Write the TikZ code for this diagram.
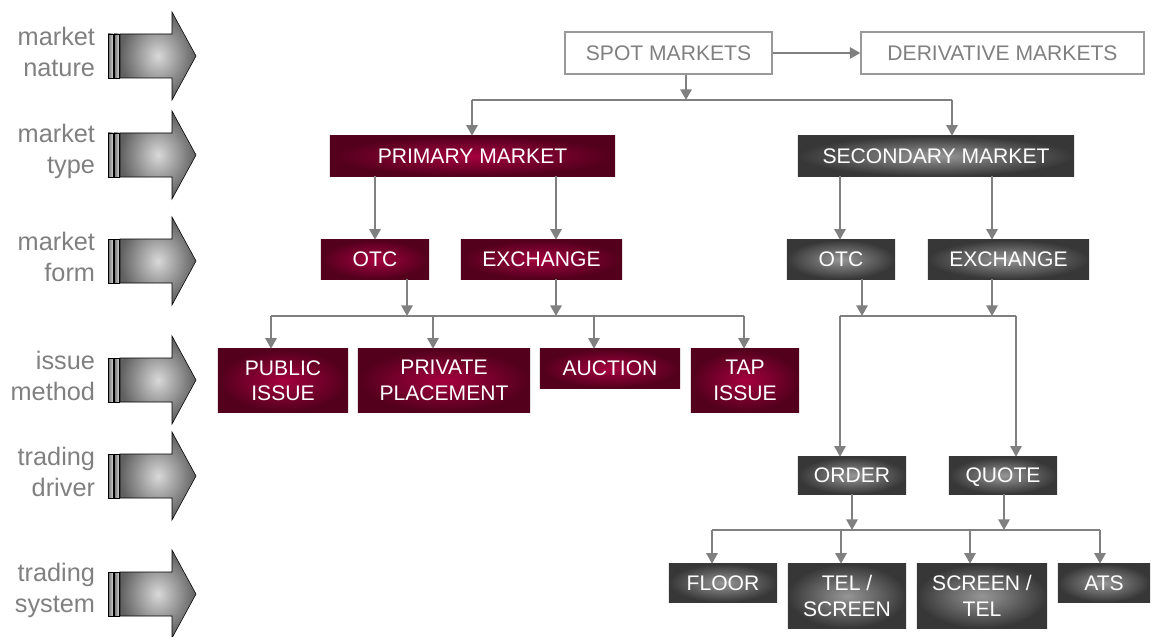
\documentclass[tikz,border=0pt]{standalone}
\usepackage{fontspec}
\setmainfont{Liberation Sans}
\usepackage{tikz}
\usetikzlibrary{arrows.meta,positioning,calc}
\definecolor{mktgray}{RGB}{128,128,128}
\definecolor{redcore}{RGB}{165,0,62}
\definecolor{rededge}{RGB}{82,0,28}
\definecolor{graycore}{RGB}{150,150,150}
\definecolor{grayedge}{RGB}{55,55,55}

\begin{document}
\begin{tikzpicture}[x=0.025cm, y=-0.025cm,
  font=\fontsize{15}{18}\selectfont,
  conn/.style={draw=mktgray, line width=1.4pt, -{Triangle[width=8pt,length=7.5pt]}},
  bus/.style={draw=mktgray, line width=1.4pt},
  nbox/.style={draw=mktgray!80, fill=white, text=mktgray, inner sep=0pt, line width=0.8pt},
  redbox/.style={inner color=redcore, outer color=rededge, text=white, inner sep=0pt, align=center},
  graybox/.style={inner color=graycore, outer color=grayedge, text=white, inner sep=0pt, align=center},
  rowlbl/.style={text=mktgray, anchor=east, align=right, font=\fontsize{18}{22}\selectfont},
  bigarrow/.style={inner color=gray!30, outer color=gray!75!black, draw=black, line width=0.4pt},
  arrowbar/.style={left color=gray!85!black, right color=gray!35, draw=black, line width=0.4pt}]

\useasboundingbox (0,0) rectangle (1152,637);

% Row labels with big arrows
\foreach \y/\ta/\tb in {56/market/nature, 155/market/type, 261/market/form,
                        380/issue/method, 476/trading/driver, 594/trading/system}{
  \shade[arrowbar] (108,\y-22) rectangle (113,\y+22);
  \shade[arrowbar] (114,\y-22) rectangle (119,\y+22);
  \shade[bigarrow] (120,\y-22) -- (172,\y-22) -- (172,\y-44) -- (196,\y)
       -- (172,\y+44) -- (172,\y+22) -- (120,\y+22) -- cycle;
  \node[rowlbl] (lbl-\y) at (100,\y-4) {\ta\\ \tb};
}

% Market nature
\node[nbox, minimum width=5.175cm, minimum height=1.05cm] (spot) at (668.5,53) {SPOT MARKETS};
\node[nbox, minimum width=7.075cm, minimum height=1.05cm] (deriv) at (1002.5,53) {DERIVATIVE MARKETS};

% Market type
\node[redbox, minimum width=7.125cm, minimum height=1cm] (prim) at (472.5,156) {PRIMARY MARKET};
\node[graybox, minimum width=6.9cm, minimum height=1cm] (sec) at (936,156) {SECONDARY MARKET};

% Market form
\node[redbox, minimum width=2.7cm, minimum height=0.975cm] (potc) at (375,259.5) {OTC};
\node[redbox, minimum width=4.025cm, minimum height=0.975cm] (pexch) at (541.5,259.5) {EXCHANGE};
\node[graybox, minimum width=2.7cm, minimum height=0.975cm] (sotc) at (841,259.5) {OTC};
\node[graybox, minimum width=4.025cm, minimum height=0.975cm] (sexch) at (1008.5,259.5) {EXCHANGE};

% Issue method
\node[redbox, minimum width=3.25cm, minimum height=1.575cm] (pub) at (283,380.5) {PUBLIC\\ ISSUE};
\node[redbox, minimum width=4.3cm, minimum height=1.575cm] (priv) at (444,380.5) {PRIVATE\\ PLACEMENT};
\node[redbox, minimum width=3.5cm, minimum height=0.975cm] (auct) at (610,368.5) {AUCTION};
\node[redbox, minimum width=2.7cm, minimum height=1.575cm] (tap) at (745,380.5) {TAP\\ ISSUE};

% Trading driver
\node[graybox, minimum width=2.7cm, minimum height=0.925cm] (order) at (852,475.5) {ORDER};
\node[graybox, minimum width=2.7cm, minimum height=0.925cm, text depth=0pt] (quote) at (1003,475.5) {QUOTE};

% Trading system
\node[graybox, minimum width=2.7cm, minimum height=0.95cm] (floor) at (723,583) {FLOOR};
\node[graybox, minimum width=2.95cm, minimum height=1.6cm] (telscr) at (847,596) {TEL /\\ SCREEN};
\node[graybox, minimum width=3.25cm, minimum height=1.6cm] (scrtel) at (982,596) {SCREEN /\\ TEL};
\node[graybox, minimum width=2.3cm, minimum height=0.95cm] (ats) at (1104,583) {ATS};

% Junction points
\coordinate (aL) at (472,100); \coordinate (aM) at (686,100); \coordinate (aR) at (952,100);
\coordinate (bL) at (271,316); \coordinate (bR) at (744,316);
\coordinate (bO) at (407,316); \coordinate (bE) at (556,316);
\coordinate (bP) at (433,316); \coordinate (bA) at (594,316);
\coordinate (cL) at (840,316); \coordinate (cR) at (1016,316);
\coordinate (cO) at (862,316); \coordinate (cE) at (992,316);
\coordinate (dL) at (712,530); \coordinate (dR) at (1100,530);
\coordinate (dO) at (852,530); \coordinate (dQ) at (1004,530);
\coordinate (dT) at (841,530); \coordinate (dS) at (970,530);

% Connectors
\draw[conn] (spot) -- (deriv);
\draw[conn] (spot.south -| aM) -- (aM);
\draw[bus] (aL) -- (aR);
\draw[conn] (aL) -- (prim.north -| aL);
\draw[conn] (aR) -- (sec.north -| aR);

\draw[conn] (prim.south -| potc.north) -- (potc.north);
\draw[conn] (prim.south -| bE) -- (pexch.north -| bE);
\draw[conn] (sec.south -| cL) -- (sotc.north -| cL);
\draw[conn] (sec.south -| cE) -- (sexch.north -| cE);

\draw[conn] (potc.south -| bO) -- (bO);
\draw[conn] (pexch.south -| bE) -- (bE);
\draw[bus] (bL) -- (bR);
\draw[conn] (bL) -- (pub.north -| bL);
\draw[conn] (bP) -- (priv.north -| bP);
\draw[conn] (bA) -- (auct.north -| bA);
\draw[conn] (bR) -- (tap.north -| bR);

\draw[conn] (sotc.south -| cO) -- (cO);
\draw[conn] (sexch.south -| cE) -- (cE);
\draw[bus] (cL) -- (cR);
\draw[conn] (cL) -- (order.north -| cL);
\draw[conn] (cR) -- (quote.north -| cR);

\draw[conn] (order.south -| dO) -- (dO);
\draw[conn] (quote.south -| dQ) -- (dQ);
\draw[bus] (dL) -- (dR);
\draw[conn] (dL) -- (floor.north -| dL);
\draw[conn] (dT) -- (telscr.north -| dT);
\draw[conn] (dS) -- (scrtel.north -| dS);
\draw[conn] (dR) -- (ats.north -| dR);

\end{tikzpicture}
\end{document}
